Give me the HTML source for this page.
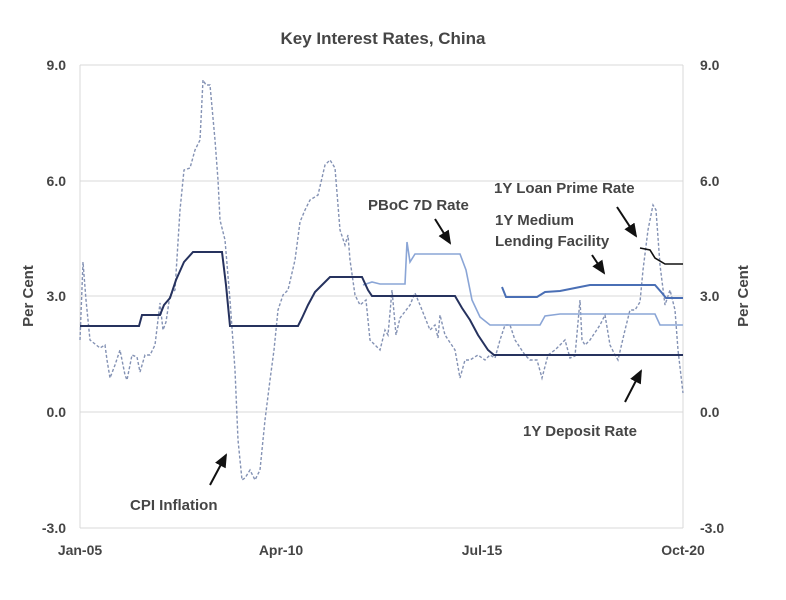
<!DOCTYPE html>
<html><head><style>
body{margin:0;background:#fff;}
svg text{font-family:"Liberation Sans",sans-serif;fill:#454545;font-weight:bold;}
</style></head><body>
<svg width="786" height="595" viewBox="0 0 786 595">
<defs><marker id="ah" markerWidth="8" markerHeight="8" refX="6" refY="4" orient="auto"><path d="M0,1 L7,4 L0,7 z" fill="#111"/></marker></defs>
<text x="383" y="44" font-size="17" text-anchor="middle">Key Interest Rates, China</text>
<g stroke="#d9d9d9" stroke-width="1">
<line x1="80" y1="65" x2="683" y2="65"/><line x1="80" y1="181" x2="683" y2="181"/>
<line x1="80" y1="296" x2="683" y2="296"/><line x1="80" y1="412" x2="683" y2="412"/>
<line x1="80" y1="528" x2="683" y2="528"/>
<line x1="80" y1="65" x2="80" y2="528"/><line x1="683" y1="65" x2="683" y2="528"/>
</g>
<g font-size="14" text-anchor="end">
<text x="66" y="70">9.0</text><text x="66" y="186">6.0</text><text x="66" y="301">3.0</text><text x="66" y="417">0.0</text><text x="66" y="533">-3.0</text>
</g>
<g font-size="14">
<text x="700" y="70">9.0</text><text x="700" y="186">6.0</text><text x="700" y="301">3.0</text><text x="700" y="417">0.0</text><text x="700" y="533">-3.0</text>
</g>
<g font-size="14" text-anchor="middle">
<text x="80" y="555">Jan-05</text><text x="281" y="555">Apr-10</text><text x="482" y="555">Jul-15</text><text x="683" y="555">Oct-20</text>
</g>
<text font-size="15" text-anchor="middle" transform="translate(33,296) rotate(-90)">Per  Cent</text>
<text font-size="15" text-anchor="middle" transform="translate(748,296) rotate(-90)">Per  Cent</text>
<polyline fill="none" stroke="#8492b4" stroke-width="1.4" stroke-dasharray="3,2" points="80,340 83,262 86,300 90,340 100,348 105,345 107,360 110,378 115,365 120,350 125,375 127,380 132,355 137,357 140,372 145,355 150,355 155,345 160,303 163,330 166,322 170,295 175,290 180,210 184,170 190,168 195,150 200,140 203,80 206,85 210,85 215,140 218,180 220,220 225,240 230,300 235,370 238,440 242,480 245,478 250,470 255,480 260,470 265,420 270,380 274,350 278,310 283,295 288,290 295,260 300,222 305,210 310,200 318,195 325,165 330,160 335,168 340,230 345,245 348,235 350,260 355,295 360,305 366,300 370,340 375,345 380,350 385,330 388,335 392,290 396,335 400,318 410,305 415,293 420,305 430,330 435,325 438,338 440,315 445,335 455,350 460,378 465,360 470,360 478,355 485,360 490,355 495,358 500,340 505,325 510,325 515,340 525,355 530,360 537,360 542,378 548,355 555,350 560,345 565,340 570,358 575,356 580,300 582,340 585,345 590,340 600,325 605,315 610,345 615,355 618,360 625,330 630,310 635,310 640,302 643,270 648,230 653,205 656,210 660,265 665,305 670,290 675,310 678,350 683,393"/>
<polyline fill="none" stroke="#8aa5d6" stroke-width="1.6" points="363,285 372,282 380,284 405,284 407,242 410,262 415,254 460,254 466,270 472,300 480,317 490,325 540,325 545,316 560,314 655,314 660,325 683,325"/>
<polyline fill="none" stroke="#4a6fb5" stroke-width="2" points="502,287 506,297 537,297 545,292 560,291 580,287 590,285 655,285 662,293 666,298 683,298"/>
<polyline fill="none" stroke="#111" stroke-width="1.6" points="640,248 650,250 655,258 665,264 683,264"/>
<polyline fill="none" stroke="#26325e" stroke-width="2" points="80,326 139,326 142,315 160,315 164,305 170,298 176,280 184,262 193,252 222,252 226,285 230,326 298,326 302,318 308,305 315,292 322,285 330,277 362,277 368,290 372,296 455,296 462,308 470,320 478,335 488,350 494,355 683,355"/>
<g font-size="15">
<text x="368" y="210">PBoC 7D Rate</text>
<text x="494" y="193">1Y Loan Prime Rate</text>
<text x="495" y="225">1Y Medium</text>
<text x="495" y="246">Lending Facility</text>
<text x="523" y="436">1Y Deposit Rate</text>
<text x="130" y="510">CPI  Inflation</text>
</g>
<g stroke="#111" stroke-width="2" marker-end="url(#ah)">
<line x1="435" y1="219" x2="450" y2="243"/>
<line x1="617" y1="207" x2="636" y2="236"/>
<line x1="592" y1="255" x2="604" y2="273"/>
<line x1="625" y1="402" x2="641" y2="371"/>
<line x1="210" y1="485" x2="226" y2="455"/>
</g>
</svg>
</body></html>
